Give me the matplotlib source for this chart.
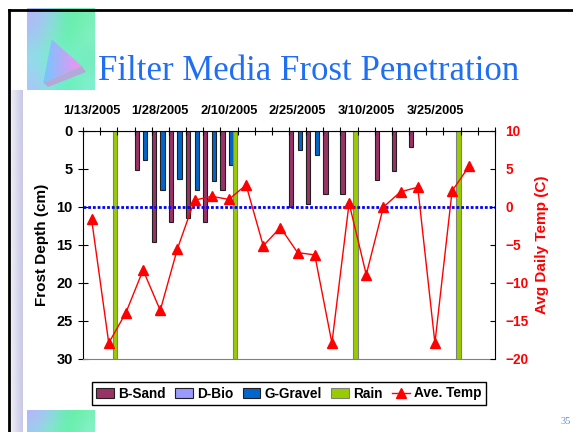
import numpy as np
import matplotlib.pyplot as plt
from matplotlib.patches import Polygon
from matplotlib.colors import to_rgb

# data: 24 sampling dates, labels every 4th one
n_cat = 24
label_pos = [0, 4, 8, 12, 16, 20]
date_labels = ["1/13/2005", "1/28/2005", "2/10/2005", "2/25/2005", "3/10/2005", "3/25/2005"]

b_sand = [0, 0, 0, 5.1, 14.6, 12.0, 11.5, 12.0, 7.7, 0, 0, 0,
          10.0, 9.6, 8.3, 8.3, 0, 6.4, 5.2, 2.1, 0, 0, 0, 0]
d_bio = [0] * 24
g_gravel = [0, 0, 0, 3.8, 7.7, 6.3, 7.7, 6.6, 4.5, 0, 0, 0,
            2.5, 3.2, 0, 0, 0, 0, 0, 0, 0, 0, 0, 0]
rain = [0, 30, 0, 0, 0, 0, 0, 0, 30, 0, 0, 0,
        0, 0, 0, 30, 0, 0, 0, 0, 0, 30, 0, 0]
ave_temp = [-1.6, -17.9, -13.9, -8.3, -13.6, -5.5, 0.9, 1.4, 1.0, 2.9, -5.1, -2.7,
            -6.0, -6.3, -17.9, 0.5, -8.9, 0.0, 2.0, 2.6, -17.9, 2.1, 5.4, np.nan]

W, H = 573, 432
fig = plt.figure(figsize=(W / 100, H / 100), dpi=100)
fig.patch.set_facecolor("white")

# ---- slide decoration, drawn in pixel coords ----
bg = fig.add_axes([0, 0, 1, 1], zorder=-5)
bg.set_xlim(0, W)
bg.set_ylim(H, 0)
bg.axis("off")

# soft shadow strip left of the chart
strip = np.linspace(0, 1, 20).reshape(1, -1)
grad = np.ones((1, 20, 4))
grad[..., :3] = to_rgb("#c8c8e6")
grad[..., 3] = 0.25 + 0.75 * strip
bg.imshow(grad, extent=(9.5, 22, H, 90), aspect="auto", interpolation="bilinear", zorder=1)

# pastel squares
sq_cols = [["#b4b8f8", "#90d8e8", "#60f0a0", "#78f0b8"],
           ["#a0c8f4", "#80ecc8", "#60f0a8", "#88f0c8"],
           ["#90e0ec", "#70f0c0", "#80f0d4", "#70eab8"],
           ["#a8c8f8", "#80e8dc", "#64f0b4", "#84f0d0"]]
sq = np.array([[to_rgb(c) for c in row] for row in sq_cols])
bg.imshow(sq, extent=(27, 95, 90, 8), aspect="auto", interpolation="bicubic", zorder=2)
bg.imshow(sq[:2], extent=(27, 95, 432, 410), aspect="auto", interpolation="bicubic", zorder=2)

# triangle with shadow
bg.add_patch(Polygon([(81.7, 66), (86, 72), (48, 87), (43.3, 82.7)], closed=True,
                     facecolor="#b4a8d8", edgecolor="none", zorder=3))
tri = Polygon([(51.7, 39.3), (81.7, 66), (43.3, 82.7)], closed=True,
              facecolor="none", edgecolor="none", zorder=4)
bg.add_patch(tri)
tg = np.zeros((1, 50, 3))
for i, t in enumerate(np.linspace(0, 1, 50)):
    tg[0, i] = (1 - t) * np.array(to_rgb("#70c8ff")) + t * np.array(to_rgb("#f890f0"))
im = bg.imshow(tg, extent=(43, 82, 83, 39), aspect="auto", interpolation="bilinear", zorder=4)
im.set_clip_path(tri)

# slide border
bg.plot([8.5, 8.5], [9.5, H], color="black", lw=2, zorder=6)
bg.plot([8.5, W], [9.5, 9.5], color="black", lw=2, zorder=6)

fig.text(309 / W, 1 - 71 / H, "Filter Media Frost Penetration", fontsize=25,
         family="Liberation Serif", color="#1f6ff2", ha="center", va="center")
fig.text(566 / W, 1 - 422 / H, "35", fontsize=7.5, family="Liberation Serif",
         color="#6a8cc0", ha="center", va="center")

# ---- chart ----
plt.rcParams["font.family"] = "Liberation Sans"
ax = fig.add_axes([83 / W, 1 - 359 / H, 412 / W, 228 / H])
x = np.arange(n_cat)
bw = 0.25
ax.bar(x - 1.5 * bw, b_sand, bw, color="#993366", edgecolor="#202020", lw=0.8, label="B-Sand")
ax.bar(x - 0.5 * bw, d_bio, bw, color="#9999ff", edgecolor="#202020", lw=0.8, label="D-Bio")
ax.bar(x + 0.5 * bw, g_gravel, bw, color="#0066cc", edgecolor="#202020", lw=0.8, label="G-Gravel")
ax.bar(x + 1.5 * bw, rain, bw, color="#99cc00", edgecolor="#808080", lw=0.8, label="Rain")

ax.set_xlim(-0.5, n_cat - 0.5)
ax.set_ylim(30, 0)
ax.set_yticks(np.arange(0, 31, 5))
ax.xaxis.tick_top()
ax.set_xticks(np.arange(-0.5, n_cat, 1))
ax.set_xticklabels([])
ax.set_xticks(label_pos, date_labels, minor=True)
ax.tick_params(axis="x", which="major", direction="inout", length=5.5, width=0.8)
ax.tick_params(axis="x", which="minor", length=0, pad=10, labelsize=9.3)
ax.tick_params(axis="y", direction="inout", length=7, width=0.8, pad=4, labelsize=10.5)
for lab in ax.get_xticklabels(minor=True) + ax.get_yticklabels():
    lab.set_fontweight("bold")
ax.spines["right"].set_visible(False)
ax.spines["bottom"].set_color("#808080")
ax.set_ylabel("Frost Depth (cm)", fontsize=11, fontweight="bold")
ax.yaxis.set_label_coords(-0.082, 0.5)

ax2 = ax.twinx()
ax2.plot(x, ave_temp, color="red", lw=1, marker="^", markersize=6.5, label="Ave. Temp")
ax2.axhline(0, color="#0000ff", lw=2, linestyle=(0, (1, 0.7)), zorder=1)
ax2.set_ylim(-20, 10)
ax2.set_yticks(np.arange(-20, 11, 5))
ax2.tick_params(axis="y", direction="in", length=3.6, width=0.8, pad=7.5,
                labelsize=9.8, labelcolor="red")
for lab in ax2.get_yticklabels():
    lab.set_fontweight("bold")
for s in ["top", "left", "bottom"]:
    ax2.spines[s].set_visible(False)
ax2.set_ylabel("Avg Daily Temp (C)", fontsize=11, fontweight="bold", color="red")
ax2.yaxis.set_label_coords(1.098, 0.5)

h1, l1 = ax.get_legend_handles_labels()
h2, l2 = ax2.get_legend_handles_labels()
leg = fig.legend(h1 + h2, l1 + l2, loc="center", bbox_to_anchor=(289 / W, 1 - 393.5 / H),
                 ncol=5, fancybox=False, edgecolor="black", framealpha=1,
                 prop={"weight": "bold", "size": 9.8}, handlelength=1.3, handleheight=0.8,
                 handletextpad=0.3, columnspacing=0.7, borderpad=0.3)
leg.get_frame().set_linewidth(1)

fig.savefig("out.png", dpi=100)
